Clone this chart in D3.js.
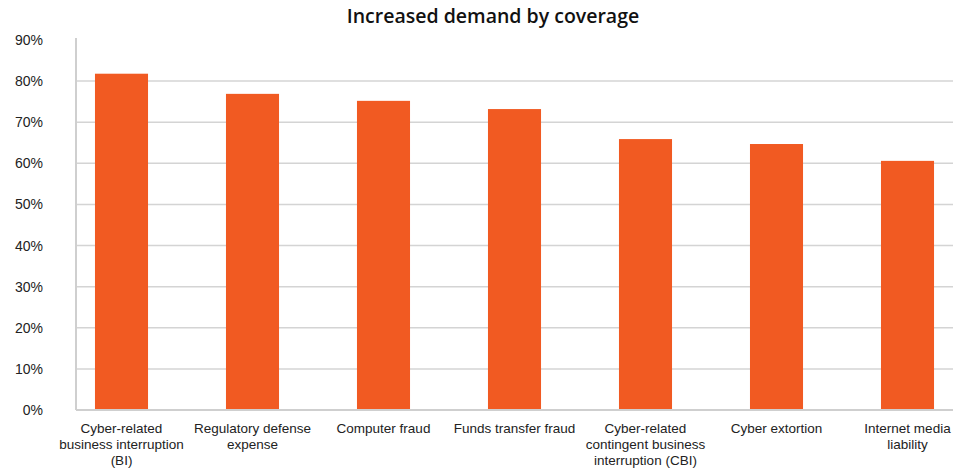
<!DOCTYPE html>
<html>
<head>
<meta charset="utf-8">
<script src="https://cdn.jsdelivr.net/npm/d3@7"></script>
<style>
  body { margin: 0; background: #fff; }
  svg { display: block; }
</style>
</head>
<body>
<script>
var categories = [
  ["Cyber-related", "business interruption", "(BI)"],
  ["Regulatory defense", "expense"],
  ["Computer fraud"],
  ["Funds transfer fraud"],
  ["Cyber-related", "contingent business", "interruption (CBI)"],
  ["Cyber extortion"],
  ["Internet media", "liability"]
];
var values = [0.818, 0.769, 0.752, 0.732, 0.659, 0.647, 0.606];
var yTicks = [0, 0.1, 0.2, 0.3, 0.4, 0.5, 0.6, 0.7, 0.8, 0.9];

var width = 955, height = 472;
var plotLeft = 76, plotRight = 953, plotTop = 40, plotBottom = 410;

var svg = d3.select("body").append("svg")
    .attr("width", width)
    .attr("height", height);

svg.append("text")
    .attr("x", 493)
    .attr("y", 23)
    .attr("text-anchor", "middle")
    .style("font-family", "'Open Sans', sans-serif")
    .style("font-weight", 600)
    .style("font-size", "19.5px")
    .style("fill", "#111")
    .text("Increased demand by coverage");

var y = d3.scaleLinear().domain([0, 0.9]).range([plotBottom, plotTop]);
var x = d3.scaleBand()
    .domain(d3.range(categories.length))
    .range([56, 973])
    .paddingInner(0.595)
    .paddingOuter(0.2975);

// gridlines
svg.append("g")
    .selectAll("line")
    .data(yTicks.filter(function(d) { return d > 0 && d < 0.9; }))
    .enter().append("line")
    .attr("x1", plotLeft)
    .attr("x2", plotRight)
    .attr("y1", function(d) { return y(d); })
    .attr("y2", function(d) { return y(d); })
    .style("stroke", "#d4d4d4")
    .style("stroke-width", 1.5);

// y tick labels
var yAxis = d3.axisLeft(y)
    .tickValues(yTicks)
    .tickFormat(d3.format(".0%"))
    .tickSize(0)
    .tickPadding(0);

var yg = svg.append("g")
    .attr("transform", "translate(43,0)")
    .call(yAxis);
yg.select(".domain").remove();
yg.selectAll("text")
    .style("font-family", "'Liberation Sans', Arial, sans-serif")
    .style("font-size", "14px")
    .style("fill", "#222");

// bars
svg.append("g")
    .selectAll("rect")
    .data(values)
    .enter().append("rect")
    .attr("x", function(d, i) { return x(i); })
    .attr("y", function(d) { return y(d); })
    .attr("width", x.bandwidth())
    .attr("height", function(d) { return y(0) - y(d); })
    .style("fill", "#f15a22");

// axis lines
svg.append("line")
    .attr("x1", plotLeft).attr("x2", plotLeft)
    .attr("y1", plotTop - 2).attr("y2", plotBottom)
    .style("stroke", "#cfcfcf")
    .style("stroke-width", 2);
svg.append("line")
    .attr("x1", plotLeft).attr("x2", plotRight)
    .attr("y1", plotBottom).attr("y2", plotBottom)
    .style("stroke", "#cfcfcf")
    .style("stroke-width", 2);

// category labels
var labels = svg.append("g")
    .selectAll("text")
    .data(categories)
    .enter().append("text")
    .attr("text-anchor", "middle")
    .attr("x", function(d, i) { return x(i) + x.bandwidth() / 2; })
    .attr("y", 433)
    .style("font-family", "'Liberation Sans', Arial, sans-serif")
    .style("font-size", "13.5px")
    .style("fill", "#222");

labels.selectAll("tspan")
    .data(function(d) { return d; })
    .enter().append("tspan")
    .attr("x", function() { return d3.select(this.parentNode).attr("x"); })
    .attr("dy", function(d, i) { return i === 0 ? 0 : 16; })
    .text(function(d) { return d; });
</script>
</body>
</html>
